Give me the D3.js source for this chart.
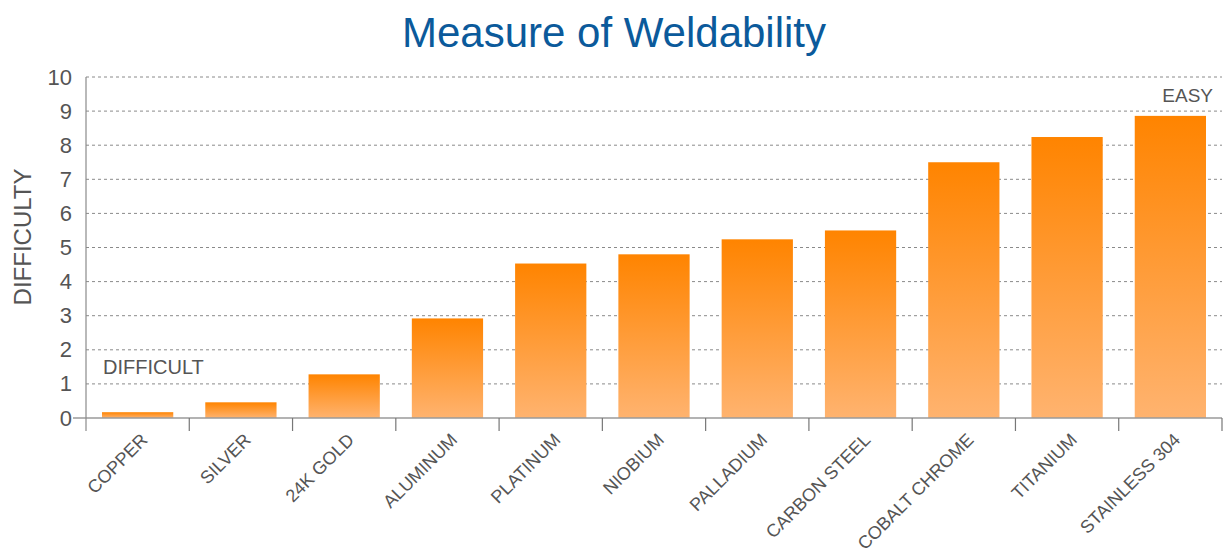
<!DOCTYPE html>
<html>
<head>
<meta charset="utf-8">
<script src="https://cdn.jsdelivr.net/npm/d3@7"></script>
<style>
  body { margin: 0; background: #fff; }
  text { font-family: "Liberation Sans", Arial, sans-serif; }
</style>
</head>
<body>
<div id="chart"></div>
<script>
// Datos
const materiales = ['COPPER', 'SILVER', '24K GOLD', 'ALUMINUM', 'PLATINUM', 'NIOBIUM',
  'PALLADIUM', 'CARBON STEEL', 'COBALT CHROME', 'TITANIUM', 'STAINLESS 304'];
const dificultad = [0.17, 0.46, 1.28, 2.92, 4.53, 4.8, 5.24, 5.5, 7.5, 8.24, 8.86];
const ticksY = [0, 1, 2, 3, 4, 5, 6, 7, 8, 9, 10];

const width = 1224, height = 557;
const margin = { top: 77, right: 2, bottom: 139, left: 86 };
const innerW = width - margin.left - margin.right;
const innerH = height - margin.top - margin.bottom;

const svg = d3.select('#chart')
  .append('svg')
  .attr('width', width)
  .attr('height', height);

// Degradado de las barras
const grad = svg.append('defs').append('linearGradient')
  .attr('id', 'barra')
  .attr('x1', 0).attr('y1', 0).attr('x2', 0).attr('y2', 1);
grad.append('stop').attr('offset', '0%').attr('stop-color', '#ff8400');
grad.append('stop').attr('offset', '100%').attr('stop-color', '#ffb36f');

// Título
svg.append('text')
  .attr('x', 614).attr('y', 47)
  .attr('text-anchor', 'middle')
  .attr('font-size', 42)
  .attr('fill', '#0b5a9b')
  .text('Measure of Weldability');

const g = svg.append('g')
  .attr('transform', `translate(${margin.left}, ${margin.top})`);

const xScale = d3.scaleBand()
  .domain(materiales)
  .range([0, innerW])
  .paddingInner(0.31)
  .paddingOuter(0.155);

const yScale = d3.scaleLinear()
  .domain([0, 10])
  .range([innerH, 0]);

// Rejilla
g.append('g')
  .selectAll('line')
  .data(ticksY.filter(d => d > 0))
  .join('line')
  .attr('x1', 0).attr('x2', innerW)
  .attr('y1', d => yScale(d)).attr('y2', d => yScale(d))
  .attr('stroke', '#8a8a8a')
  .attr('stroke-width', 1)
  .attr('stroke-dasharray', '3,3');

// Eje Y
const ejeY = g.append('g')
  .call(d3.axisLeft(yScale).tickValues(ticksY).tickSize(0).tickPadding(14));
ejeY.select('.domain').remove();
ejeY.selectAll('text')
  .attr('font-size', 22)
  .attr('fill', '#555')
  .style('font-family', '"Liberation Sans", Arial, sans-serif');

// Barras
g.append('g')
  .selectAll('rect')
  .data(materiales.map((m, i) => ({ m, v: dificultad[i] })))
  .join('rect')
  .attr('x', d => xScale(d.m))
  .attr('y', d => yScale(d.v))
  .attr('width', xScale.bandwidth())
  .attr('height', d => innerH - yScale(d.v))
  .attr('fill', 'url(#barra)');

// Líneas de ejes
g.append('line')
  .attr('x1', -13).attr('x2', innerW)
  .attr('y1', innerH).attr('y2', innerH)
  .attr('stroke', '#9a9a9a').attr('stroke-width', 1.5);
g.append('line')
  .attr('x1', 0).attr('x2', 0)
  .attr('y1', 0).attr('y2', innerH + 13)
  .attr('stroke', '#8a8a8a').attr('stroke-width', 1.2);

// Marcas entre categorías
const paso = xScale.step();
g.append('g')
  .selectAll('line')
  .data(materiales)
  .join('line')
  .attr('x1', d => xScale(d) - xScale.paddingInner() * paso / 2 + paso)
  .attr('x2', d => xScale(d) - xScale.paddingInner() * paso / 2 + paso)
  .attr('y1', innerH).attr('y2', innerH + 13)
  .attr('stroke', '#777').attr('stroke-width', 1.2);

// Etiquetas X
g.append('g')
  .selectAll('text')
  .data(materiales)
  .join('text')
  .attr('transform', d => `translate(${xScale(d) + xScale.bandwidth() / 2 + 11}, ${innerH + 23}) rotate(-45)`)
  .attr('text-anchor', 'end')
  .attr('font-size', 18)
  .attr('fill', '#555')
  .text(d => d);

// Etiqueta eje Y
svg.append('text')
  .attr('transform', 'translate(31, 237) rotate(-90)')
  .attr('text-anchor', 'middle')
  .attr('font-size', 24)
  .attr('fill', '#555')
  .text('DIFFICULTY');

// Anotaciones
svg.append('text')
  .attr('x', 103).attr('y', 374)
  .attr('font-size', 20)
  .attr('fill', '#555')
  .text('DIFFICULT');
svg.append('text')
  .attr('x', 1213).attr('y', 102)
  .attr('text-anchor', 'end')
  .attr('font-size', 19)
  .attr('fill', '#555')
  .text('EASY');
</script>
</body>
</html>
